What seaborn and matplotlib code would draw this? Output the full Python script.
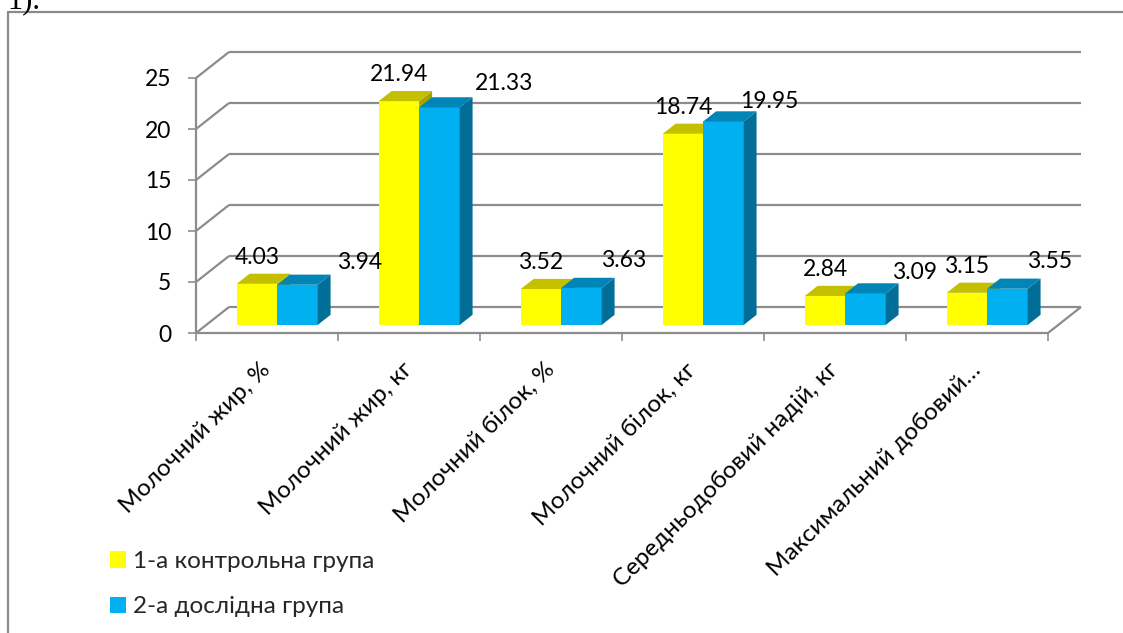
import matplotlib
matplotlib.use("Agg")
import matplotlib.pyplot as plt
from matplotlib.patches import Polygon, Patch
from matplotlib.lines import Line2D
import numpy as np
import pandas as pd
import seaborn as sns

# ---- data -------------------------------------------------------------
categories = [
    "Молочний жир, %",
    "Молочний жир, кг",
    "Молочний білок, %",
    "Молочний білок, кг",
    "Середньодобовий надій, кг",
    "Максимальний добовий…",
]
groups = ["1-а контрольна група", "2-а дослідна група"]
control = [4.03, 21.94, 3.52, 18.74, 2.84, 3.15]
experimental = [3.94, 21.33, 3.63, 19.95, 3.09, 3.55]
y_ticks = [0, 5, 10, 15, 20, 25]

# ---- style ------------------------------------------------------------
W, H, DPI = 1123, 633, 100
YELLOW, YELLOW_TOP, YELLOW_SIDE = "#FFFF00", "#C4C000", "#A6A300"
BLUE, BLUE_TOP, BLUE_SIDE = "#00B0F0", "#0085B6", "#006E96"
GRID = "#8C8C8C"
FS_NUM = 16.5
FS_TXT = 17.5

sns.set_theme(style="white")
plt.rcParams["font.family"] = ["Lato", "Noto Sans", "DejaVu Sans"]

fig = plt.figure(figsize=(W / DPI, H / DPI), dpi=DPI)
fig.patch.set_facecolor("white")

# front plane of the 3-D box, in pixels
left_px, right_px, base_px, top_px = 196, 1048, 333, 78
ax = fig.add_axes([left_px / W, 1 - base_px / H,
                   (right_px - left_px) / W, (base_px - top_px) / H])
ax.set_facecolor("none")

ncat = len(categories)
ux = (right_px - left_px) / ncat          # px per category
uy = (base_px - top_px) / y_ticks[-1]     # px per value unit
DX, DY = 33 / ux, 26 / uy                 # full depth of the box (data units)
SX, SY = 0.31 * DX, 0.31 * DY             # bars sit a bit into the box
BX, BY = 0.39 * DX, 0.39 * DY             # depth of each bar

df = pd.DataFrame({
    "category": categories * 2,
    "value": control + experimental,
    "group": [groups[0]] * ncat + [groups[1]] * ncat,
})
sns.barplot(data=df, x="category", y="value", hue="group", order=categories,
            hue_order=groups, palette=[YELLOW, BLUE], width=0.57,
            saturation=1, legend=False, ax=ax, linewidth=0)

ax.set_xlim(-0.5, ncat - 0.5)
ax.set_ylim(0, y_ticks[-1])
for s in ax.spines.values():
    s.set_visible(False)

# ---- box: walls, floor and gridlines ---------------------------------
lk = dict(color=GRID, lw=1.6, clip_on=False, zorder=1, solid_capstyle="butt")
xl, xr = -0.5, ncat - 0.5
for v in y_ticks:
    ax.plot([xl + DX, xr + DX], [v + DY, v + DY], **lk)
    ax.plot([xl, xl + DX], [v, v + DY], **lk)
ax.plot([xl, xl], [0, y_ticks[-1]], **lk)
ax.plot([xl, xr], [0, 0], **lk)
ax.plot([xr, xr + DX], [0, DY], **lk)

# ---- 3-D bars ---------------------------------------------------------
bars = [p for p in ax.patches if p.get_height() > 0]
tops = {YELLOW: YELLOW_TOP, BLUE: BLUE_TOP}
sides = {YELLOW: YELLOW_SIDE, BLUE: BLUE_SIDE}
bar_info = []
for p in bars:
    fc = matplotlib.colors.to_hex(p.get_facecolor()).upper()
    is_yellow = fc == YELLOW
    z = 3 if is_yellow else 3.2
    x0 = p.get_x() + SX
    w = p.get_width()
    h = p.get_height()
    p.set_x(x0)
    p.set_y(SY)
    p.set_zorder(z)
    p.set_linewidth(0)
    y1 = SY + h
    x1 = x0 + w
    ax.add_patch(Polygon([(x1, SY), (x1 + BX, SY + BY), (x1 + BX, y1 + BY), (x1, y1)],
                         closed=True, fc=sides[fc], lw=0, zorder=z + 0.05))
    ax.add_patch(Polygon([(x0, y1), (x1, y1), (x1 + BX, y1 + BY), (x0 + BX, y1 + BY)],
                         closed=True, fc=tops[fc], lw=0, zorder=z + 0.05))
    bar_info.append((is_yellow, x0 + w / 2, y1, h))

# ---- value labels -----------------------------------------------------
blue_dx = [62, 65, 42, 46, 49, 42]
blue_dy = [22, 24, 27, 20, 21, 27]
yb = sorted([b for b in bar_info if b[0]], key=lambda b: b[1])
bb = sorted([b for b in bar_info if not b[0]], key=lambda b: b[1])
for i, (_, cx, ty, h) in enumerate(yb):
    ax.annotate(f"{control[i]:.2f}", (cx, ty), xytext=(0, 26.5 * 0.72),
                textcoords="offset points", ha="center", va="center",
                fontsize=FS_NUM, color="black", zorder=6, annotation_clip=False)
for i, (_, cx, ty, h) in enumerate(bb):
    ax.annotate(f"{experimental[i]:.2f}", (cx, ty),
                xytext=(blue_dx[i] * 0.72, blue_dy[i] * 0.72),
                textcoords="offset points", ha="center", va="center",
                fontsize=FS_NUM, color="black", zorder=6, annotation_clip=False)

# ---- axes ticks -------------------------------------------------------
ax.set_yticks(y_ticks)
ax.set_yticklabels([str(v) for v in y_ticks], fontsize=FS_NUM, color="black")
ax.tick_params(axis="y", left=True, length=5.8, width=1.2, color=GRID, pad=12)

ax.set_xticks(range(ncat))
ax.set_xticklabels(categories, rotation=45, ha="right", va="center",
                   rotation_mode="anchor", fontsize=FS_TXT, color="black")
ax.tick_params(axis="x", which="major", bottom=True, length=0, pad=24)
ax.set_xticks(np.arange(-0.5, ncat), minor=True)
ax.tick_params(axis="x", which="minor", bottom=True, length=5.8, width=1.2,
               color=GRID)
ax.set_xlabel("")
ax.set_ylabel("")

# ---- legend -----------------------------------------------------------
handles = [Patch(facecolor=YELLOW, edgecolor="none"),
           Patch(facecolor=BLUE, edgecolor="none")]
fig.legend(handles, groups, loc="upper left",
           bbox_to_anchor=(110 / W, 1 - 551 / H), frameon=False,
           fontsize=FS_TXT, handlelength=0.66, handleheight=0.66,
           handletextpad=0.3, labelspacing=1.0, borderpad=0,
           borderaxespad=0)

# ---- outer frame and page fragment -----------------------------------
fig.add_artist(Line2D([8 / W, 8 / W], [0, 1 - 12 / H], color="#8A8A8A",
                      lw=1.6, transform=fig.transFigure))
fig.add_artist(Line2D([8 / W, 1], [1 - 12 / H, 1 - 12 / H], color="#8A8A8A",
                      lw=1.6, transform=fig.transFigure))
fig.text(7 / W, 1 - 8 / H, "1).", family="Liberation Serif", fontsize=22,
         va="baseline", ha="left", color="black")

fig.savefig("out.png", dpi=DPI, facecolor="white")
